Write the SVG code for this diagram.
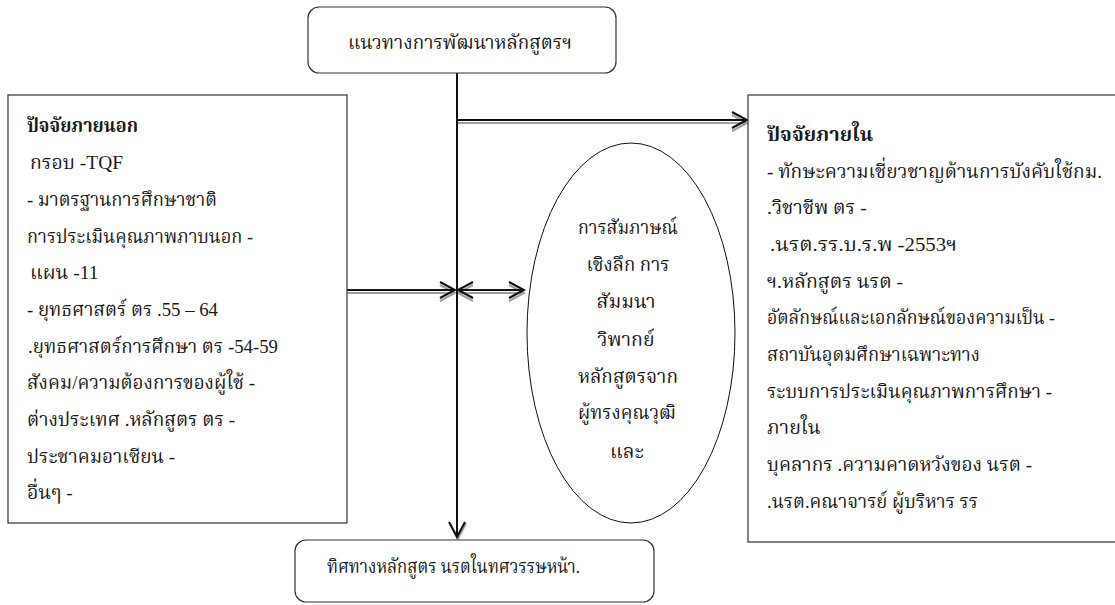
<svg xmlns="http://www.w3.org/2000/svg" width="1115" height="605" viewBox="0 0 1115 605">
<style>
text{font-family:"Liberation Serif","Noto Serif Thai","Noto Sans Thai","DejaVu Serif",serif;font-size:19.5px;fill:#1a1a1a}
.b{font-weight:bold}
.box{fill:#fff;stroke:#333;stroke-width:1.2}
.ln{fill:none;stroke:#111;stroke-width:2}
.sh{fill:none;stroke:#a0a0a0;stroke-width:2}
.m{text-anchor:middle}
</style>
<rect width="1115" height="605" fill="#fff"/>
<g id="connectors">
  <g class="sh" transform="translate(0,3)">
    <path d="M457,120 H746 M732,112 L747,120 L732,128"/>
    <path d="M347,290 H455 M440,282 L455,290 L440,298"/>
    <path d="M459,290 H524 M473,282 L458,290 L473,298 M509,282 L524,290 L509,298"/>
  </g>
  <path class="sh" d="M450,523 L458,539 L466,523"/>
  <path class="ln" d="M457,73 V537"/>
  <path class="ln" d="M457,120 H746 M732,112 L747,120 L732,128"/>
  <path class="ln" d="M347,290 H455 M440,282 L455,290 L440,298"/>
  <path class="ln" d="M459,290 H524 M473,282 L458,290 L473,298 M509,282 L524,290 L509,298"/>
  <path class="ln" d="M449,522 L457,537 L465,522"/>
</g>
<g id="top">
  <rect class="box" x="308" y="7" width="308" height="66" rx="11"/>
  <text x="348" y="49" textLength="224" lengthAdjust="spacingAndGlyphs">แนวทางการพัฒนาหลักสูตรฯ</text>
</g>
<g id="external">
  <rect class="box" x="8" y="95" width="339" height="428"/>
  <text class="b" x="27" y="132" textLength="111" lengthAdjust="spacingAndGlyphs">ปัจจัยภายนอก</text>
  <text x="30" y="169" textLength="93" lengthAdjust="spacingAndGlyphs">กรอบ -TQF</text>
  <text x="27" y="206" textLength="190" lengthAdjust="spacingAndGlyphs">- มาตรฐานการศึกษาชาติ</text>
  <text x="27" y="243" textLength="226" lengthAdjust="spacingAndGlyphs">การประเมินคุณภาพภาบนอก -</text>
  <text x="30" y="279">แผน -11</text>
  <text x="27" y="316" textLength="191" lengthAdjust="spacingAndGlyphs">- ยุทธศาสตร์ ตร .55 – 64</text>
  <text x="28" y="353" textLength="250" lengthAdjust="spacingAndGlyphs">.ยุทธศาสตร์การศึกษา ตร -54-59</text>
  <text x="27" y="389" textLength="228" lengthAdjust="spacingAndGlyphs">สังคม/ความต้องการของผู้ใช้ -</text>
  <text x="27" y="426" textLength="208" lengthAdjust="spacingAndGlyphs">ต่างประเทศ .หลักสูตร ตร -</text>
  <text x="27" y="463" textLength="148" lengthAdjust="spacingAndGlyphs">ประชาคมอาเซียน -</text>
  <text x="27" y="499">อื่นๆ -</text>
</g>
<g id="internal">
  <rect class="box" x="748" y="95" width="380" height="447"/>
  <text class="b" x="767" y="141" textLength="106" lengthAdjust="spacingAndGlyphs">ปัจจัยภายใน</text>
  <text x="767" y="178" textLength="335" lengthAdjust="spacingAndGlyphs">- ทักษะความเชี่ยวชาญด้านการบังคับใช้กม.</text>
  <text x="767" y="214">.วิชาชีพ ตร -</text>
  <text x="770" y="251" textLength="187" lengthAdjust="spacingAndGlyphs">.นรต.รร.บ.ร.พ -2553ฯ</text>
  <text x="767" y="288" textLength="136" lengthAdjust="spacingAndGlyphs">ฯ.หลักสูตร นรต -</text>
  <text x="767" y="324" textLength="288" lengthAdjust="spacingAndGlyphs">อัตลักษณ์และเอกลักษณ์ของความเป็น -</text>
  <text x="767" y="361" textLength="213" lengthAdjust="spacingAndGlyphs">สถาบันอุดมศึกษาเฉพาะทาง</text>
  <text x="767" y="398" textLength="285" lengthAdjust="spacingAndGlyphs">ระบบการประเมินคุณภาพการศึกษา -</text>
  <text x="767" y="434">ภายใน</text>
  <text x="767" y="471" textLength="265" lengthAdjust="spacingAndGlyphs">บุคลากร .ความคาดหวังของ นรต -</text>
  <text x="767" y="508" textLength="211" lengthAdjust="spacingAndGlyphs">.นรต.คณาจารย์ ผู้บริหาร รร</text>
</g>
<g id="review">
  <ellipse cx="631" cy="333" rx="104" ry="190" fill="#fff" stroke="#111" stroke-width="1"/>
  <text class="m" x="628" y="234" textLength="100" lengthAdjust="spacingAndGlyphs">การสัมภาษณ์</text>
  <text class="m" x="628" y="271" textLength="83" lengthAdjust="spacingAndGlyphs">เชิงลึก การ</text>
  <text class="m" x="626" y="308">สัมมนา</text>
  <text class="m" x="626" y="346">วิพากย์</text>
  <text class="m" x="628" y="383" textLength="100" lengthAdjust="spacingAndGlyphs">หลักสูตรจาก</text>
  <text class="m" x="627" y="419" textLength="98" lengthAdjust="spacingAndGlyphs">ผู้ทรงคุณวุฒิ</text>
  <text class="m" x="627" y="458">และ</text>
</g>
<g id="direction">
  <rect class="box" x="295" y="540" width="359" height="62" rx="11"/>
  <text x="327" y="573" textLength="253" lengthAdjust="spacingAndGlyphs">ทิศทางหลักสูตร นรตในทศวรรษหน้า.</text>
</g>
</svg>
